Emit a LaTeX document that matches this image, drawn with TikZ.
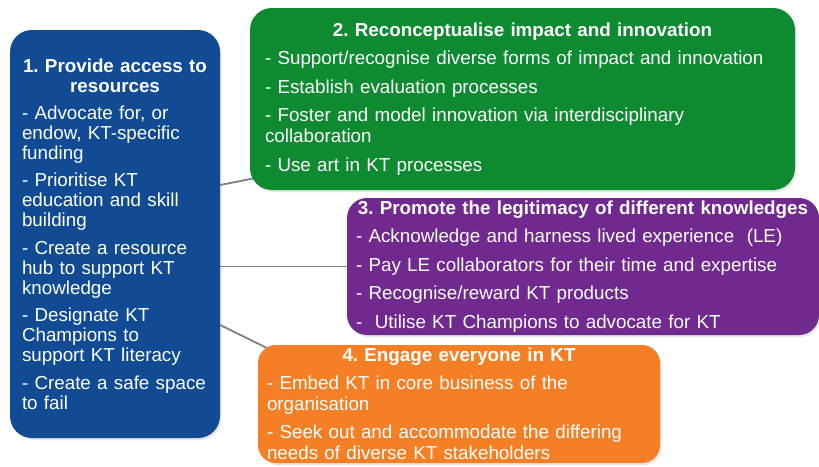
\documentclass[tikz,border=0pt]{standalone}
\usepackage{fontspec}
\setmainfont{Liberation Sans}
\usetikzlibrary{backgrounds,shadows}
\definecolor{ktblue}{RGB}{17,75,148}
\definecolor{ktgreen}{RGB}{14,138,49}
\definecolor{ktpurple}{RGB}{112,41,143}
\definecolor{ktorange}{RGB}{244,127,36}
\definecolor{ktgray}{RGB}{128,128,128}
\frenchspacing
\newcommand{\boxhead}[1]{{\centering\bfseries #1\par}\vspace{7pt}}
\newcommand{\nextpoint}{\par\vspace{7.5pt}}
\tikzset{
    theme/.style={
    rectangle,rounded corners=22pt,text=white,align=left,
    inner xsep=0pt,inner ysep=2pt,
    font=\fontsize{18.8pt}{21pt}\selectfont,
    drop shadow={opacity=0.2,shadow xshift=1.5pt,shadow yshift=-2pt}
    },
    link/.style={
    draw=ktgray,line width=1.8pt
    },
}
\begin{document}
\begin{tikzpicture}[x=1pt,y=-1pt]
   \useasboundingbox (0,0) rectangle (819,466);
   \node[theme,fill=ktblue,font=\fontsize{18.8pt}{20pt}\selectfont,minimum width=210pt,minimum height=408pt,text width=186pt] (res) at (115,234) {%
     \boxhead{1. Provide access to\\ resources}
     - Advocate for, or\\ endow, KT-specific\\ funding\nextpoint
     - Prioritise KT\\ education and skill\\ building\nextpoint
     - Create a resource\\ hub to support KT\\ knowledge\nextpoint
     - Designate KT\\ Champions to\\ support KT literacy\nextpoint
     - Create a safe space\\ to fail};
   \node[theme,fill=ktgreen,minimum width=545pt,minimum height=182pt,text width=515pt] (grn) at (522.5,99) {%
     \boxhead{2. Reconceptualise impact and innovation}
     - Support/recognise diverse forms of impact and innovation\nextpoint
     - Establish evaluation processes\nextpoint
     - Foster and model innovation via interdisciplinary\\ collaboration\nextpoint
     - Use art in KT processes};
   \node[theme,fill=ktpurple,rounded corners=20pt,minimum width=472pt,minimum height=137pt,text width=454pt] (prp) at (583,266.5) {%
     \boxhead{3. Promote the legitimacy of different knowledges}
     - Acknowledge and harness lived experience~~(LE)\nextpoint
     - Pay LE collaborators for their time and expertise\nextpoint
     - Recognise/reward KT products\nextpoint
     -~~Utilise KT Champions to advocate for KT};
   \node[theme,fill=ktorange,rounded corners=18pt,minimum width=402pt,minimum height=118pt,text width=384pt] (org) at (459,404) {%
     \boxhead{4. Engage everyone in KT}
     - Embed KT in core business of the\\ organisation\nextpoint
     - Seek out and accommodate the differing\\ needs of diverse KT stakeholders};

  \begin{scope}[on background layer]
   \fill[white] (0,0) rectangle (819,466);
   \draw[link] (res.east |- 0,185) -- ([shift={(20,-15)}]grn.south west);
   \draw[link] (res.east |- prp.west) -- (prp.west);
   \draw[link] (res.east |- 0,325) -- ([shift={(27,12)}]org.north west);
  \end{scope}
\end{tikzpicture}
\end{document}
